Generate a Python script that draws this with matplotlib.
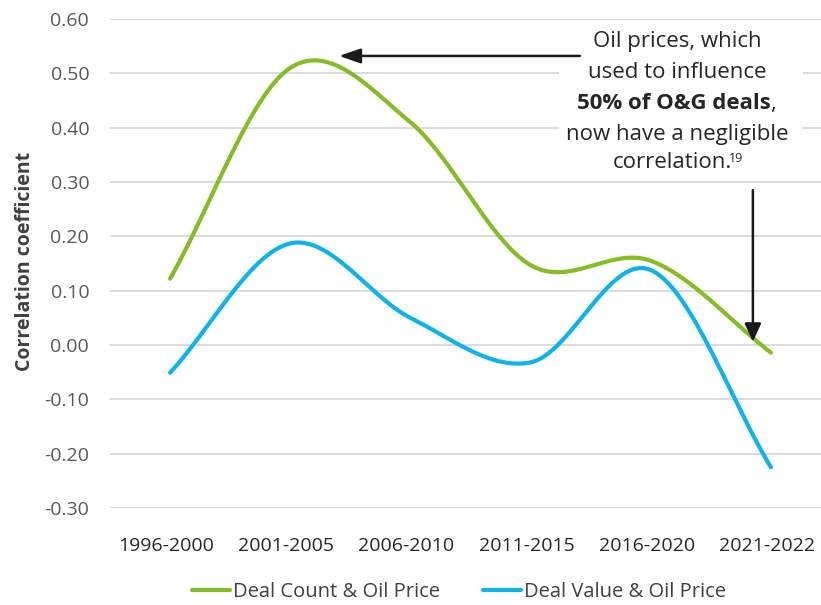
import numpy as np
import matplotlib.pyplot as plt
from matplotlib.patches import Rectangle
from matplotlib.transforms import ScaledTranslation

# data
periods = ['1996-2000', '2001-2005', '2006-2010', '2011-2015', '2016-2020', '2021-2022']
deal_count = [0.122, 0.51, 0.41, 0.147, 0.155, -0.014]
deal_value = [-0.051, 0.187, 0.05, -0.032, 0.138, -0.225]
y_ticks = [0.6, 0.5, 0.4, 0.3, 0.2, 0.1, 0.0, -0.1, -0.2, -0.3]

green = '#86BC25'
blue = '#0DB3EA'

plt.rcParams['font.family'] = ['Open Sans', 'DejaVu Sans']


# smoothed line like the spreadsheet one (catmull-rom through the points)
def smooth(vals, n=40):
    v = np.array(vals, dtype=float)
    p = np.concatenate([[v[0]], v, [v[-1]]])
    xs, ys = [], []
    for i in range(len(v) - 1):
        p0, p1, p2, p3 = p[i], p[i + 1], p[i + 2], p[i + 3]
        m1 = (p2 - p0) / 2
        m2 = (p3 - p1) / 2
        if i == 0:
            m1 = p2 - p1
        if i == len(v) - 2:
            m2 = p2 - p1
        t = np.linspace(0, 1, n)
        h00 = 2 * t**3 - 3 * t**2 + 1
        h10 = t**3 - 2 * t**2 + t
        h01 = -2 * t**3 + 3 * t**2
        h11 = t**3 - t**2
        xs.append(i + t)
        ys.append(h00 * p1 + h10 * m1 + h01 * p2 + h11 * m2)
    return np.concatenate(xs), np.concatenate(ys)


fig = plt.figure(figsize=(8.21, 6.05), dpi=100)
ax = fig.add_axes([110 / 821, 1 - 508 / 605, 721 / 821, 489 / 605])

x1, y1 = smooth(deal_count)
x2, y2 = smooth(deal_value)
ax.plot(x1, y1, color=green, lw=3, solid_capstyle='round', label='Deal Count & Oil Price', zorder=3)
ax.plot(x2, y2, color=blue, lw=3, solid_capstyle='round', label='Deal Value & Oil Price', zorder=3)

ax.set_xlim(-0.5, 5.5)
ax.set_ylim(-0.3, 0.6)
ax.set_yticks(y_ticks)
ax.set_yticklabels(['%.2f' % v for v in y_ticks])
ax.set_xticks(range(len(periods)))
ax.set_xticklabels(periods)
ax.tick_params(axis='y', length=0, pad=15, labelsize=14, labelcolor='#595959')
ax.tick_params(axis='x', length=0, pad=21, labelsize=14, labelcolor='#262626')
# category labels sit a few pixels left of the points in the original
shift = ScaledTranslation(-4 / 100, 0, fig.dpi_scale_trans)
for lab in ax.get_xticklabels():
    lab.set_transform(lab.get_transform() + shift)
ax.grid(axis='y', color='#d9d9d9', lw=1.3, zorder=0)
ax.set_axisbelow(True)
for s in ax.spines.values():
    s.set_visible(False)

fig.text(25 / 821, 1 - 261 / 605, 'Correlation coefficient', rotation=90,
         ha='center', va='center', fontsize=14, fontweight='bold', color='#404040')

# annotation box
ax.add_patch(Rectangle((3.24, 0.307), 2.03, 0.282, facecolor='white', edgecolor='none', zorder=2))
tc = '#262626'
ax.text(4.22, 0.558, 'Oil prices, which', ha='center', va='center', fontsize=16, color=tc, zorder=4)
ax.text(4.22, 0.501, 'used to influence', ha='center', va='center', fontsize=16, color=tc, zorder=4)
bold = ax.text(4.19, 0.445, '50% of O&G deals', ha='center', va='center', fontsize=16,
               fontweight='bold', color=tc, zorder=4)
ax.text(4.22, 0.387, 'now have a negligible', ha='center', va='center', fontsize=16, color=tc, zorder=4)
corr = ax.text(4.18, 0.335, 'correlation.', ha='center', va='center', fontsize=16, color=tc, zorder=4)

# comma after the bold part and the footnote number
fig.canvas.draw()
inv = ax.transData.inverted()
bb = bold.get_window_extent()
ax.text(inv.transform((bb.x1, 0))[0], 0.445, ',', ha='left', va='center', fontsize=16,
        color=tc, zorder=4)
bb = corr.get_window_extent()
ax.text(inv.transform((bb.x1 - 3, 0))[0], 0.343, '19', ha='left', va='center', fontsize=9,
        color=tc, zorder=4)

ax.annotate('', xy=(1.406, 0.532), xytext=(3.41, 0.532),
            arrowprops=dict(arrowstyle='-|>,head_length=1.3,head_width=0.45', color='#1a1a1a',
                            lw=1.8, shrinkA=0, shrinkB=0), zorder=4)
ax.annotate('', xy=(4.85, 0.006), xytext=(4.85, 0.285),
            arrowprops=dict(arrowstyle='-|>,head_length=1.1,head_width=0.5', color='#1a1a1a',
                            lw=1.8, shrinkA=0, shrinkB=0), zorder=4)

fig.legend(loc='center', bbox_to_anchor=(459 / 821, 1 - 592 / 605), ncol=2, frameon=False,
           fontsize=14.5, handlelength=1.9, handletextpad=0.15, columnspacing=2.1,
           labelcolor='#404040')

fig.savefig('out.png', dpi=100)
